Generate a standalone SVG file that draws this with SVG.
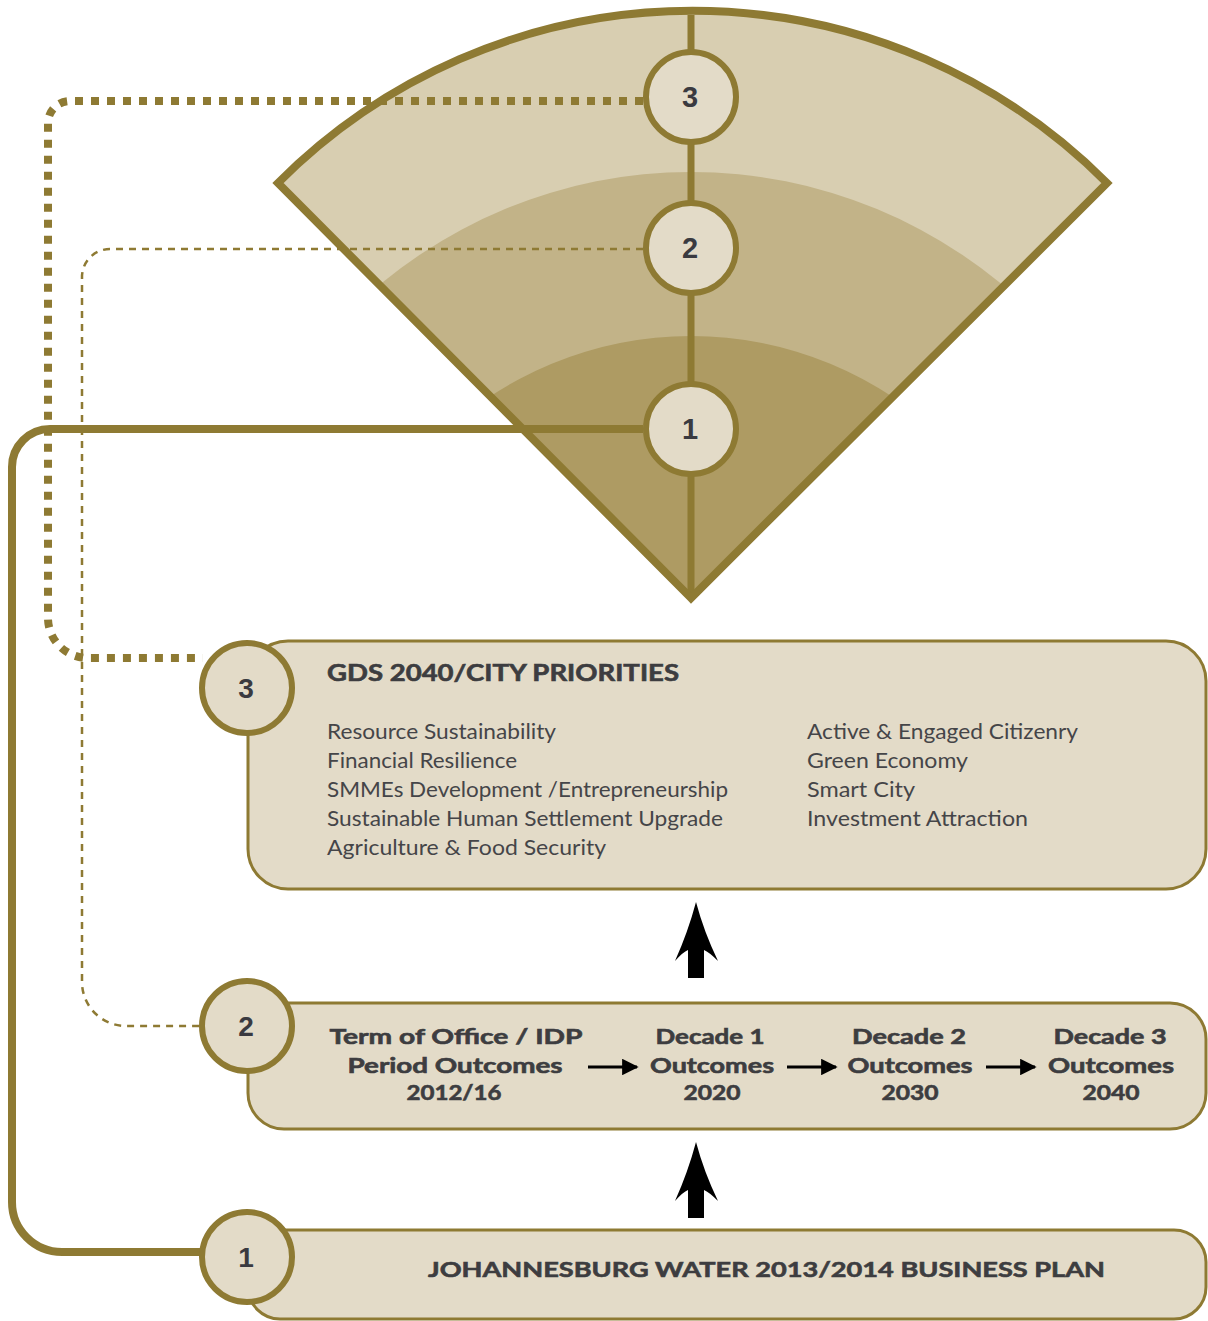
<svg xmlns="http://www.w3.org/2000/svg" width="1208" height="1321" viewBox="0 0 1208 1321">
<style>
.box{fill:#e3dbc8;stroke:#8e7a33;stroke-width:3}
.circ{fill:#e3dbc8;stroke:#8e7a33;stroke-width:6}
.num{font-family:"Liberation Sans",Arial,sans-serif;font-weight:bold;font-size:29px;fill:#3a3a40;text-anchor:middle}
.t{font-family:Lato,"Open Sans",sans-serif;font-size:21px;fill:#454548}
.b{font-family:Lato,"Open Sans",sans-serif;font-size:21px;font-weight:bold;fill:#3d3d40;stroke:#3d3d40;stroke-width:0.6}
.c{text-anchor:middle}
.con{fill:none;stroke:#8e7a33}
</style>
<defs>
<clipPath id="sec"><path d="M691 598 L278 183 A585 585 0 0 1 1107 183 Z"/></clipPath>
<marker id="ah" viewBox="0 0 10 10" refX="9" refY="5" markerWidth="5.5" markerHeight="5.5" orient="auto" markerUnits="strokeWidth"><path d="M0 0 L10 5 L0 10 Z" fill="#000"/></marker>
<path id="bigarrow" d="M696 902 Q704 932 718 961 Q709 952 704 950 V978 H688 V950 Q683 952 675 961 Q688 932 696 902 Z"/>
</defs>
<rect width="1208" height="1321" fill="#ffffff"/>
<g id="fan">
<path d="M691 598 L278 183 A585 585 0 0 1 1107 183 Z" fill="#d8ceb1"/>
<g clip-path="url(#sec)">
<circle cx="691" cy="658" r="486" fill="#c2b388"/>
<circle cx="691" cy="700" r="364" fill="#ae9b63"/>
</g>
<line x1="691" y1="15" x2="691" y2="598" stroke="#8e7a33" stroke-width="7"/>
<path d="M691 598 L278 183 A585 585 0 0 1 1107 183 Z" fill="none" stroke="#8e7a33" stroke-width="8" stroke-linejoin="miter"/>
</g>
<g id="connectors">
<path class="con" d="M643 101 H70 A22 22 0 0 0 48 123 V618 A40 40 0 0 0 88 658 H203" stroke-width="8" stroke-dasharray="8 8"/>
<path class="con" d="M643 249 H110 A28 28 0 0 0 82 277 V982 A44 44 0 0 0 126 1026 H200" stroke-width="2.5" stroke-dasharray="7 6"/>
<path class="con" d="M643 429 H50 A38 38 0 0 0 12 467 V1202 A50 50 0 0 0 62 1252 H205" stroke-width="8"/>
<use href="#bigarrow" fill="#000"/>
<use href="#bigarrow" fill="#000" transform="translate(0 240)"/>
</g>
<g id="fan-node-3"><circle class="circ" cx="691" cy="97" r="45"/><text class="num" x="690" y="107">3</text></g>
<g id="fan-node-2"><circle class="circ" cx="691" cy="248" r="45"/><text class="num" x="690" y="258">2</text></g>
<g id="fan-node-1"><circle class="circ" cx="691" cy="429" r="45"/><text class="num" x="690" y="439">1</text></g>
<g id="box-3">
<rect class="box" x="248" y="641" width="958" height="248" rx="40"/>
<circle class="circ" cx="247" cy="688" r="45"/>
<text class="num" x="246" y="698" style="font-size:28px">3</text>
<text class="b" x="327" y="681" textLength="352" lengthAdjust="spacingAndGlyphs" style="font-size:22px">GDS 2040/CITY PRIORITIES</text>
<text class="t" x="327" y="739" textLength="229" lengthAdjust="spacingAndGlyphs">Resource Sustainability</text>
<text class="t" x="327" y="768" textLength="190" lengthAdjust="spacingAndGlyphs">Financial Resilience</text>
<text class="t" x="327" y="797" textLength="401" lengthAdjust="spacingAndGlyphs">SMMEs Development /Entrepreneurship</text>
<text class="t" x="327" y="826" textLength="396" lengthAdjust="spacingAndGlyphs">Sustainable Human Settlement Upgrade</text>
<text class="t" x="327" y="855" textLength="279" lengthAdjust="spacingAndGlyphs">Agriculture &amp; Food Security</text>
<text class="t" x="807" y="739" textLength="271" lengthAdjust="spacingAndGlyphs">Active &amp; Engaged Citizenry</text>
<text class="t" x="807" y="768" textLength="161" lengthAdjust="spacingAndGlyphs">Green Economy</text>
<text class="t" x="807" y="797" textLength="108" lengthAdjust="spacingAndGlyphs">Smart City</text>
<text class="t" x="807" y="826" textLength="221" lengthAdjust="spacingAndGlyphs">Investment Attraction</text>
</g>
<g id="box-2">
<rect class="box" x="248" y="1003" width="958" height="126" rx="36"/>
<circle class="circ" cx="247" cy="1026" r="45"/>
<text class="num" x="246" y="1036" style="font-size:28px">2</text>
<text class="b c" x="456" y="1044" textLength="253" lengthAdjust="spacingAndGlyphs">Term of Office / IDP</text>
<text class="b c" x="455" y="1073" textLength="215" lengthAdjust="spacingAndGlyphs">Period Outcomes</text>
<text class="b c" x="454" y="1100" textLength="95" lengthAdjust="spacingAndGlyphs">2012/16</text>
<text class="b c" x="710" y="1044" textLength="109" lengthAdjust="spacingAndGlyphs">Decade 1</text>
<text class="b c" x="712" y="1073" textLength="124" lengthAdjust="spacingAndGlyphs">Outcomes</text>
<text class="b c" x="712" y="1100" textLength="57" lengthAdjust="spacingAndGlyphs">2020</text>
<text class="b c" x="909" y="1044" textLength="114" lengthAdjust="spacingAndGlyphs">Decade 2</text>
<text class="b c" x="910" y="1073" textLength="125" lengthAdjust="spacingAndGlyphs">Outcomes</text>
<text class="b c" x="910" y="1100" textLength="57" lengthAdjust="spacingAndGlyphs">2030</text>
<text class="b c" x="1110" y="1044" textLength="113" lengthAdjust="spacingAndGlyphs">Decade 3</text>
<text class="b c" x="1111" y="1073" textLength="126" lengthAdjust="spacingAndGlyphs">Outcomes</text>
<text class="b c" x="1111" y="1100" textLength="57" lengthAdjust="spacingAndGlyphs">2040</text>
</g>
<g id="flow-arrows">
<line x1="588" y1="1067" x2="637" y2="1067" stroke="#000" stroke-width="3" marker-end="url(#ah)"/>
<line x1="787" y1="1067" x2="836" y2="1067" stroke="#000" stroke-width="3" marker-end="url(#ah)"/>
<line x1="986" y1="1067" x2="1035" y2="1067" stroke="#000" stroke-width="3" marker-end="url(#ah)"/>
</g>
<g id="box-1">
<rect class="box" x="248" y="1230" width="958" height="89" rx="32"/>
<circle class="circ" cx="247" cy="1257" r="45"/>
<text class="num" x="246" y="1267" style="font-size:28px">1</text>
<text class="b" x="428" y="1277" textLength="677" lengthAdjust="spacingAndGlyphs">JOHANNESBURG WATER 2013/2014 BUSINESS PLAN</text>
</g>
</svg>
